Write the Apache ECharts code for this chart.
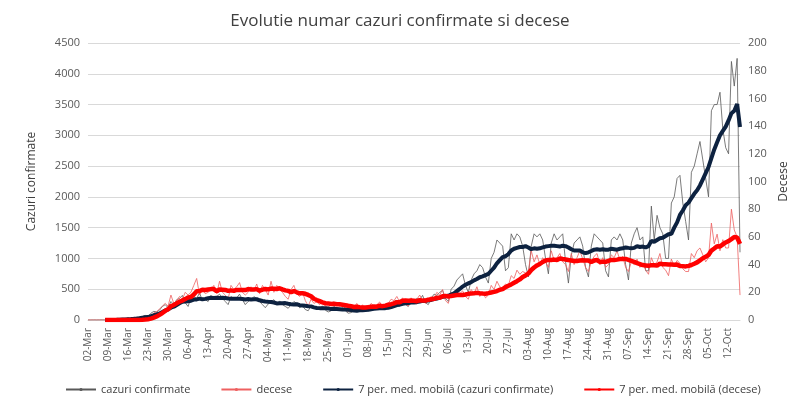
<!DOCTYPE html><html><head><meta charset="utf-8"><script src="https://cdn.jsdelivr.net/npm/echarts@6/dist/echarts.min.js"></script></head><body style="margin:0"><div id="c" style="width:800px;height:406px"></div><script>
const months=['Jan','Feb','Mar','Apr','May','Jun','Jul','Aug','Sep','Oct'];
const startDate=new Date(2020,2,2);
const cases=[0,0,1,0,1,2,0, 2,2,5,10,12,20,15, 35,15,30,40,50,60,75, 60,110,140,130,160,220,250,
200,300,250,330,350,400,280, 220,360,380,350,440,320,330, 300,400,350,380,420,350,300, 250,380,350,360,420,330,250,
300,330,380,350,300,250,200, 260,300,330,250,310,250,220, 190,250,300,270,200,230,170, 150,230,190,200,180,230,160,
130,150,220,180,160,200,150, 110,120,150,170,200,200,180, 150,180,190,200,230,220,180, 200,250,300,320,270,320,250,
220,300,320,350,330,400,280, 250,350,420,400,450,480,350, 300,500,550,650,700,750,560, 450,650,750,800,900,850,700,
600,1000,1100,1300,1250,1200,800, 850,1400,1300,1400,1350,1200,900, 700,1200,1400,1350,1400,1300,1000, 750,1250,1400,1300,1350,1400,950,
600,1050,1250,1300,1350,1200,850, 700,1200,1400,1350,1300,1250,800, 700,1300,1350,1300,1400,1300,900, 650,1250,1400,1500,1300,1350,800,
800,1850,1300,1700,1500,1400,1000, 1000,1900,2000,2300,2350,1900,1600, 1300,2400,2500,2700,2900,2600,2300, 2000,3400,3500,3500,3700,3100,2800,
2700,4200,3800,4250,1100];
const deaths=[0,0,0,0,0,0,0, 0,0,0,0,0,0,0, 0,0,0,0,0,1,1, 2,3,5,6,8,10,12,
10,18,12,14,17,15,20, 18,20,25,30,18,22,19, 20,22,25,19,28,20,18, 15,25,22,24,27,20,18,
20,24,21,26,19,25,22, 18,28,20,25,22,20,17, 15,22,25,19,17,20,14, 10,15,12,13,11,14,10,
9,12,13,11,10,12,8, 6,10,9,12,8,11,7, 8,12,10,11,13,9,10, 12,15,14,17,13,16,12,
10,16,13,15,18,14,12, 15,17,16,20,18,22,14, 12,20,18,22,19,21,17, 15,22,19,24,17,20,16,
18,25,22,28,24,23,26, 25,32,30,36,33,35,34, 35,50,42,47,40,45,42, 38,50,43,45,48,42,40,
35,48,40,45,50,44,38, 35,42,46,48,40,45,38, 40,47,45,50,43,46,38, 35,42,40,44,38,41,36,
33,45,40,42,48,38,36, 32,44,39,43,41,37,35, 35,48,45,50,52,47,42, 45,70,55,62,50,58,52,
52,80,65,60,18];
const categories=cases.map((_,i)=>{const d=new Date(startDate);d.setDate(d.getDate()+i);return String(d.getDate()).padStart(2,'0')+'-'+months[d.getMonth()];});
function ma(a){return a.map((_,i)=>i<6?null:+(a.slice(i-6,i+1).reduce((s,v)=>s+v,0)/7).toFixed(1));}
const ch=echarts.init(document.getElementById('c'));
const font='"Open Sans", "Liberation Sans", sans-serif';
ch.setOption({
 textStyle:{fontFamily:font},
 title:{text:'Evolutie numar cazuri confirmate si decese',left:'center',top:8,textStyle:{fontSize:17,fontWeight:'normal',color:'#404040',fontFamily:font}},
 grid:{left:88,right:60,top:43,bottom:86},
 legend:{bottom:6,left:60,itemWidth:30,itemHeight:4,itemGap:30,textStyle:{color:'#404040',fontSize:11},
   data:['cazuri confirmate','decese','7 per. med. mobilă (cazuri confirmate)','7 per. med. mobilă (decese)']},
 xAxis:{type:'category',data:categories,boundaryGap:false,
   axisLine:{lineStyle:{color:'#d9d9d9'}},axisTick:{show:false},
   axisLabel:{interval:6,rotate:90,color:'#595959',fontSize:10}},
 yAxis:[{type:'value',min:0,max:4500,interval:500,name:'Cazuri confirmate',nameLocation:'middle',nameGap:50,nameRotate:90,
   nameTextStyle:{color:'#404040',fontSize:12},axisLabel:{color:'#595959',fontSize:11,formatter:v=>String(v)},splitLine:{lineStyle:{color:'#d9d9d9'}}},
  {type:'value',min:0,max:200,interval:20,name:'Decese',nameLocation:'middle',nameGap:38,nameRotate:90,
   nameTextStyle:{color:'#404040',fontSize:12},axisLabel:{color:'#595959',fontSize:11,formatter:v=>String(v)},splitLine:{show:false}}],
 series:[
  {name:'cazuri confirmate',type:'line',data:cases,symbol:'none',lineStyle:{width:0.8,color:'#595959'},itemStyle:{color:'#595959'}},
  {name:'decese',type:'line',yAxisIndex:1,data:deaths,symbol:'none',lineStyle:{width:0.8,color:'#ee6060'},itemStyle:{color:'#ee6060'}},
  {name:'7 per. med. mobilă (cazuri confirmate)',type:'line',data:ma(cases),symbol:'none',lineStyle:{width:4,color:'#0d2240'},itemStyle:{color:'#0d2240'}},
  {name:'7 per. med. mobilă (decese)',type:'line',yAxisIndex:1,data:ma(deaths),symbol:'none',lineStyle:{width:4.5,color:'#ff0000'},itemStyle:{color:'#ff0000'}}
 ]});
</script></body></html>
